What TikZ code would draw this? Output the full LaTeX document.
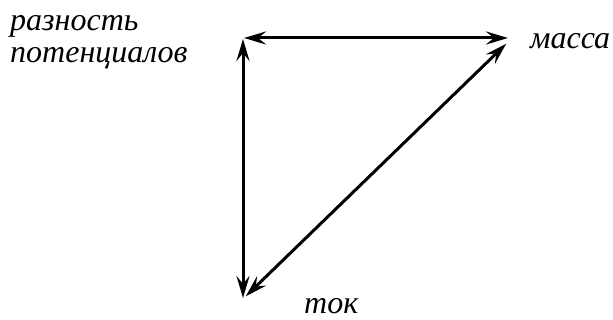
\documentclass[tikz,border=0pt]{standalone}
\usepackage{fontspec}
\setmainfont{Liberation Serif}
\usetikzlibrary{arrows.meta}
\begin{document}
\begin{tikzpicture}[x=1pt,y=-1pt,
  lbl/.style={inner sep=0pt, font=\fontsize{32}{36}\selectfont\itshape},
  dbl/.style={line width=3pt, {Stealth[length=22pt,width=13pt,inset=8pt]}-{Stealth[length=22pt,width=13pt,inset=8pt]}, shorten <=1pt, shorten >=1pt}]
\useasboundingbox (0,0) rectangle (613,320);
\coordinate (A) at (243,38);
\coordinate (B) at (509,38);
\coordinate (C) at (243,299);
\coordinate (B2) at (507,43);
\coordinate (C2) at (245,297);
\draw[dbl] (A) -- (B);
\draw[dbl] (A) -- (C);
\draw[dbl] (C2) -- (B2);
\node[lbl, anchor=base west] (r1) at (10,31) {разность};
\node[lbl, anchor=base west] (r2) at (10,63) {потенциалов};
\node[lbl, anchor=base west] (m) at (530,49) {масса};
\node[lbl, anchor=base west] (t) at (304,313) {ток};
\end{tikzpicture}
\end{document}
